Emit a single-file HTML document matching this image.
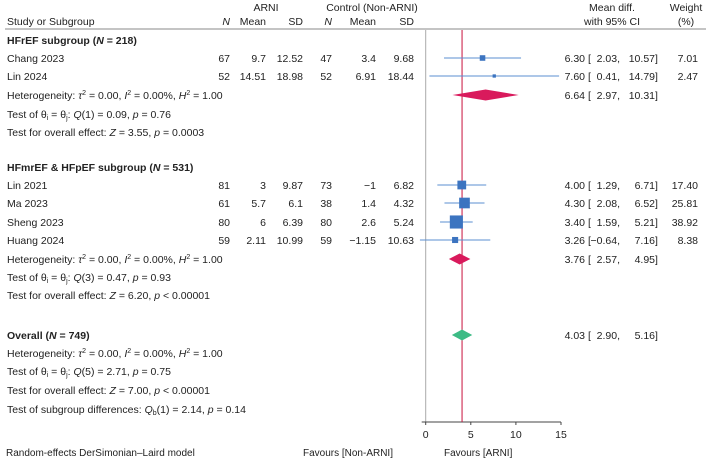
<!DOCTYPE html>
<html><head><meta charset="utf-8"><style>
html,body{margin:0;padding:0;background:#fff;}
svg{display:block;font-family:"Liberation Sans",Arial,sans-serif;font-size:10.5px;fill:#222;}
.b{font-weight:bold;}
</style></head><body>
<svg width="709" height="460" viewBox="0 0 709 460">
<g id="static">
<text x="266" y="11" text-anchor="middle">ARNI</text>
<text x="372" y="11" text-anchor="middle">Control (Non-ARNI)</text>
<text x="7" y="25">Study or Subgroup</text>
<text x="230" y="25" text-anchor="end" font-style="italic">N</text>
<text x="266" y="25" text-anchor="end">Mean</text>
<text x="303" y="25" text-anchor="end">SD</text>
<text x="332" y="25" text-anchor="end" font-style="italic">N</text>
<text x="376" y="25" text-anchor="end">Mean</text>
<text x="414" y="25" text-anchor="end">SD</text>
<text x="612" y="11" text-anchor="middle">Mean diff.</text>
<text x="612" y="25" text-anchor="middle">with 95% CI</text>
<text x="686" y="11" text-anchor="middle">Weight</text>
<text x="686" y="25" text-anchor="middle">(%)</text>
<line x1="5" y1="29" x2="706" y2="29" stroke="#888" stroke-width="1"/>
</g>
<g id="rows"></g>
<g id="plot"></g>
<text x="6" y="456" font-size="10">Random-effects DerSimonian–Laird model</text>
<text x="393" y="456" font-size="10" text-anchor="end">Favours [Non-ARNI]</text>
<text x="444" y="456" font-size="10">Favours [ARNI]</text>
</svg>
<script>
// data
const studies = ["Chang 2023","Lin 2024","Lin 2021","Ma 2023","Sheng 2023","Huang 2024"];
const n1 = ["67","52","81","61","80","59"];
const mean1 = ["9.7","14.51","3","5.7","6","2.11"];
const sd1 = ["12.52","18.98","9.87","6.1","6.39","10.99"];
const n2 = ["47","52","73","38","80","59"];
const mean2 = ["3.4","6.91","−1","1.4","2.6","−1.15"];
const sd2 = ["9.68","18.44","6.82","4.32","5.24","10.63"];
const est = [6.30,7.60,4.00,4.30,3.40,3.26];
const lo = [2.03,0.41,1.29,2.08,1.59,-0.64];
const hi = [10.57,14.79,6.71,6.52,5.21,7.16];
const weights = [7.01,2.47,17.40,25.81,38.92,8.38];
const studyRowY = [58,76,185,203,222,240];
const pooledLabels = ["HFrEF","HFmrEF & HFpEF","Overall"];
const pooledEst = [6.64,3.76,4.03];
const pooledLo = [2.97,2.57,2.90];
const pooledHi = [10.31,4.95,5.16];
const pooledRowY = [95,259,335];
const xTicks = [0,5,10,15];
const overallLine = 4.03;

const NS="http://www.w3.org/2000/svg";
const rows=document.getElementById('rows'), plot=document.getElementById('plot');
function X(v){return 425.7+(v-0)*(561-425.7)/15;}
function t(parent,x,y,str,opts){const e=document.createElementNS(NS,'text');e.setAttribute('x',x);e.setAttribute('y',y);if(opts&&opts.anchor)e.setAttribute('text-anchor',opts.anchor);if(opts&&opts.bold)e.setAttribute('font-weight','bold');e.innerHTML=str;parent.appendChild(e);return e;}
function fmt(v){return v.toFixed(2).replace('-','−');}

const lines=[
 [40,'<tspan font-weight="bold">HFrEF subgroup (<tspan font-style="italic">N</tspan> = 218)</tspan>','subgroup-hfref-title'],
 [95,'Heterogeneity: <tspan font-style="italic">τ</tspan><tspan dy="-4" font-size="7">2</tspan><tspan dy="4"> = 0.00, </tspan><tspan font-style="italic">I</tspan><tspan dy="-4" font-size="7">2</tspan><tspan dy="4"> = 0.00%, </tspan><tspan font-style="italic">H</tspan><tspan dy="-4" font-size="7">2</tspan><tspan dy="4"> = 1.00</tspan>','heterogeneity-hfref'],
 [114,'Test of θ<tspan font-size="7" dy="2">i</tspan><tspan dy="-2"> = θ</tspan><tspan font-size="7" dy="2">j</tspan><tspan dy="-2">: </tspan><tspan font-style="italic">Q</tspan>(1) = 0.09, <tspan font-style="italic">p</tspan> = 0.76','q-test-hfref'],
 [132,'Test for overall effect: <tspan font-style="italic">Z</tspan> = 3.55, <tspan font-style="italic">p</tspan> = 0.0003','z-test-hfref'],
 [167,'<tspan font-weight="bold">HFmrEF &amp; HFpEF subgroup (<tspan font-style="italic">N</tspan> = 531)</tspan>','subgroup-hfmref-title'],
 [259,'Heterogeneity: <tspan font-style="italic">τ</tspan><tspan dy="-4" font-size="7">2</tspan><tspan dy="4"> = 0.00, </tspan><tspan font-style="italic">I</tspan><tspan dy="-4" font-size="7">2</tspan><tspan dy="4"> = 0.00%, </tspan><tspan font-style="italic">H</tspan><tspan dy="-4" font-size="7">2</tspan><tspan dy="4"> = 1.00</tspan>','heterogeneity-hfmref'],
 [277,'Test of θ<tspan font-size="7" dy="2">i</tspan><tspan dy="-2"> = θ</tspan><tspan font-size="7" dy="2">j</tspan><tspan dy="-2">: </tspan><tspan font-style="italic">Q</tspan>(3) = 0.47, <tspan font-style="italic">p</tspan> = 0.93','q-test-hfmref'],
 [295,'Test for overall effect: <tspan font-style="italic">Z</tspan> = 6.20, <tspan font-style="italic">p</tspan> &lt; 0.00001','z-test-hfmref'],
 [335,'<tspan font-weight="bold">Overall (<tspan font-style="italic">N</tspan> = 749)</tspan>','overall-title'],
 [353,'Heterogeneity: <tspan font-style="italic">τ</tspan><tspan dy="-4" font-size="7">2</tspan><tspan dy="4"> = 0.00, </tspan><tspan font-style="italic">I</tspan><tspan dy="-4" font-size="7">2</tspan><tspan dy="4"> = 0.00%, </tspan><tspan font-style="italic">H</tspan><tspan dy="-4" font-size="7">2</tspan><tspan dy="4"> = 1.00</tspan>','heterogeneity-overall'],
 [371,'Test of θ<tspan font-size="7" dy="2">i</tspan><tspan dy="-2"> = θ</tspan><tspan font-size="7" dy="2">j</tspan><tspan dy="-2">: </tspan><tspan font-style="italic">Q</tspan>(5) = 2.71, <tspan font-style="italic">p</tspan> = 0.75','q-test-overall'],
 [390,'Test for overall effect: <tspan font-style="italic">Z</tspan> = 7.00, <tspan font-style="italic">p</tspan> &lt; 0.00001','z-test-overall'],
 [409,'Test of subgroup differences: <tspan font-style="italic">Q</tspan><tspan font-size="7" dy="2">b</tspan><tspan dy="-2">(1) = 2.14, </tspan><tspan font-style="italic">p</tspan> = 0.14','subgroup-difference-test']
];
lines.forEach(l=>{const e=t(rows,7,l[0]+4,l[1]);

});

// plot frame
const ax=document.createElementNS(NS,'line');
ax.setAttribute('x1',X(0));ax.setAttribute('x2',X(0));ax.setAttribute('y1',30);ax.setAttribute('y2',422);ax.setAttribute('stroke','#aaa');


plot.appendChild(ax);
const xa=document.createElementNS(NS,'line');
xa.setAttribute('x1',X(xTicks[0])-4);xa.setAttribute('x2',X(xTicks[xTicks.length-1]));xa.setAttribute('y1',422);xa.setAttribute('y2',422);xa.setAttribute('stroke','#444');


plot.appendChild(xa);
xTicks.forEach(v=>{const tk=document.createElementNS(NS,'line');tk.setAttribute('x1',X(v));tk.setAttribute('x2',X(v));tk.setAttribute('y1',422);tk.setAttribute('y2',425);tk.setAttribute('stroke','#444');


plot.appendChild(tk);
const e=t(plot,X(v),438,String(v),{anchor:'middle'});

});
const rl=document.createElementNS(NS,'line');
rl.setAttribute('x1',X(overallLine));rl.setAttribute('x2',X(overallLine));rl.setAttribute('y1',30);rl.setAttribute('y2',422);rl.setAttribute('stroke','#c8103c');


plot.appendChild(rl);

function ciText(y,e,l,h,w){
 t(rows,585,y+4,fmt(e),{anchor:'end'}); t(rows,588,y+4,'[');
 t(rows,620,y+4,fmt(l)+',',{anchor:'end'}); t(rows,655,y+4,fmt(h),{anchor:'end'}); t(rows,655,y+4,']');
 if(w!=null) t(rows,698,y+4,w.toFixed(2),{anchor:'end'});
}
studies.forEach((s,i)=>{const y=studyRowY[i];
 const cells=[[7,s,null],[230,n1[i],'end'],[266,mean1[i],'end'],[303,sd1[i],'end'],[332,n2[i],'end'],[376,mean2[i],'end'],[414,sd2[i],'end']];
 cells.forEach(c=>{const e=t(rows,c[0],y+4,c[1],{anchor:c[2]});
 
 });
 ciText(y,est[i],lo[i],hi[i],weights[i]);
 const ln=document.createElementNS(NS,'line');
 ln.setAttribute('x1',X(lo[i]));ln.setAttribute('x2',X(hi[i]));ln.setAttribute('y1',y);ln.setAttribute('y2',y);ln.setAttribute('stroke','#5b8fd0');
 
 
 plot.appendChild(ln);
 const sz=Math.sqrt(weights[i])*2.1;
 const r=document.createElementNS(NS,'rect');
 r.setAttribute('x',X(est[i])-sz/2);r.setAttribute('y',y-sz/2);r.setAttribute('width',sz);r.setAttribute('height',sz);r.setAttribute('fill','#3c74c0');
 
 
 plot.appendChild(r);
});
const dcol=['#d91a5c','#d91a5c','#3dbb85'];
pooledEst.forEach((e,i)=>{const y=pooledRowY[i];
 ciText(y,e,pooledLo[i],pooledHi[i],null);
 const p=document.createElementNS(NS,'polygon');
 p.setAttribute('points',`${X(pooledLo[i])},${y} ${X(e)},${y-5.5} ${X(pooledHi[i])},${y} ${X(e)},${y+5.5}`);
 p.setAttribute('fill',dcol[i]);
 
 
 plot.appendChild(p);
});
</script>
</body></html>
